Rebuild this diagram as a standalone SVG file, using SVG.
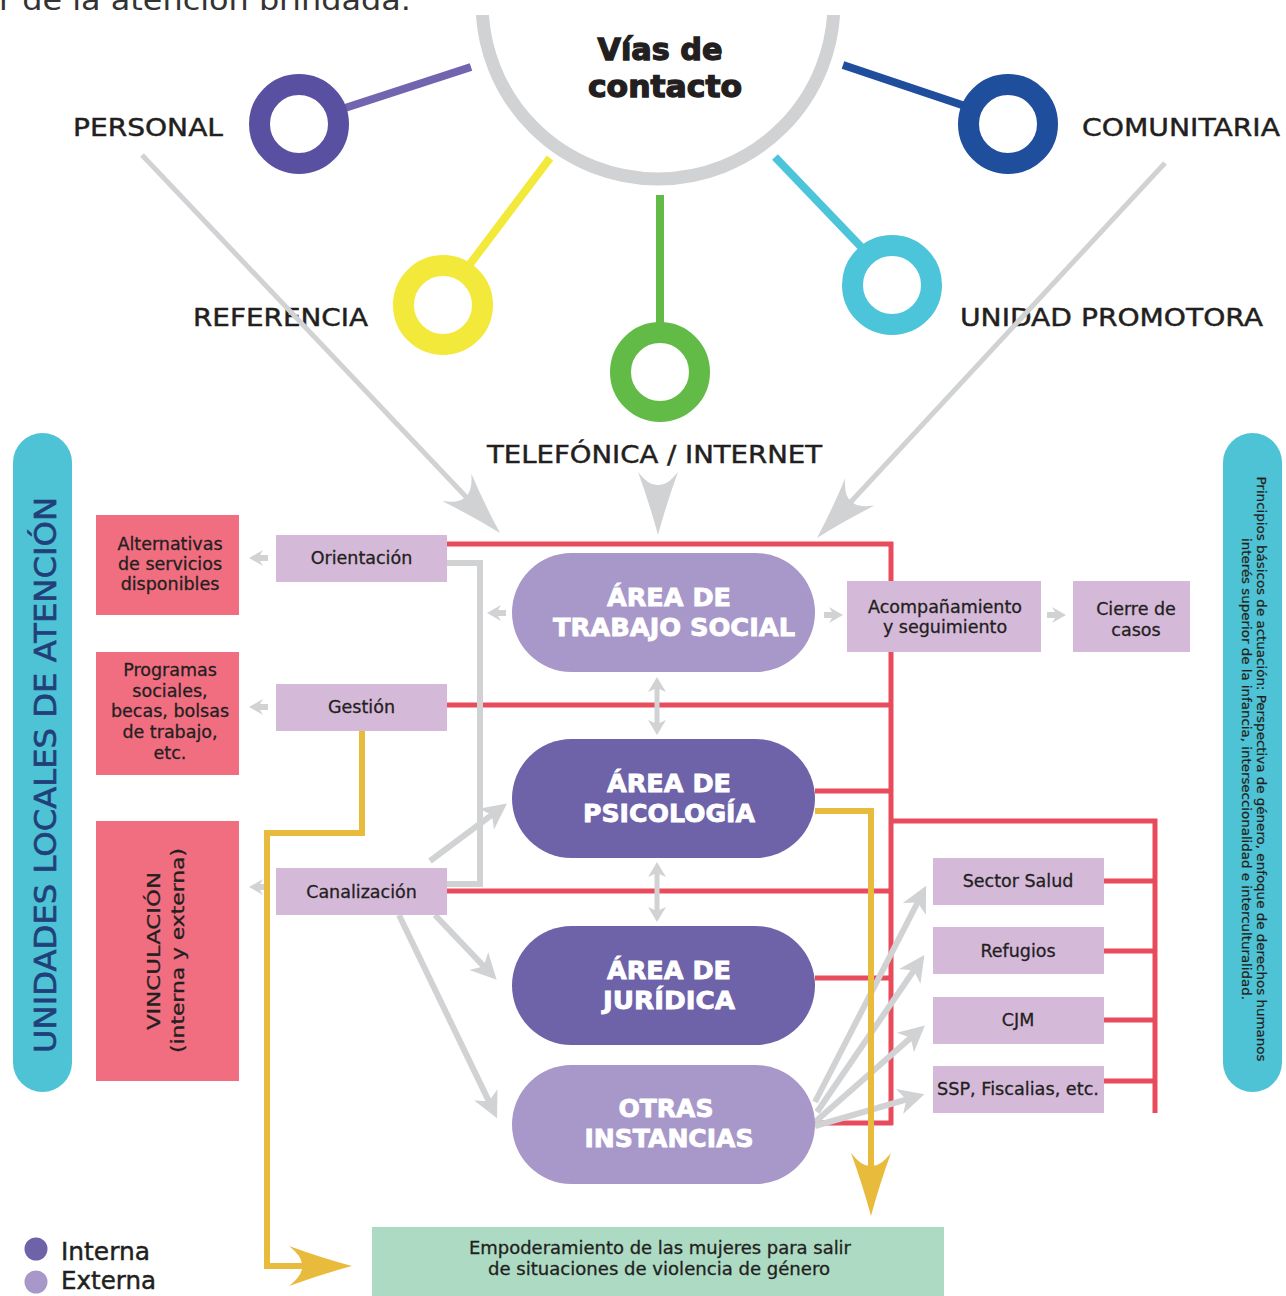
<svg xmlns="http://www.w3.org/2000/svg" xmlns:xlink="http://www.w3.org/1999/xlink" width="1286" height="1296" viewBox="0 0 1286 1296">
<style>
.lbl{font-family:"DejaVu Sans","Liberation Sans",sans-serif;fill:#231f20;font-size:24px;stroke:#231f20;stroke-width:0.45}
.bx{font-family:"DejaVu Sans","Liberation Sans",sans-serif;fill:#231f20;font-size:17.5px;text-anchor:middle;stroke:#231f20;stroke-width:0.3}
.pt{font-family:"DejaVu Sans","Liberation Sans",sans-serif;fill:#ffffff;font-size:24px;font-weight:bold;text-anchor:middle;stroke:#ffffff;stroke-width:0.8}
.lp{fill:#d5b9d9}
.rb{fill:#f16e81}
.red{fill:none;stroke:#e84b5c;stroke-width:5}
.gray{fill:none;stroke:#d1d2d4;stroke-width:6}
.gr5{fill:none;stroke:#d1d2d4;stroke-width:5}
.yel{fill:none;stroke:#e9bb3c;stroke-width:6}
.ring{fill:none;stroke-width:21}
</style>
<defs>
<clipPath id="topclip"><rect x="0" y="15" width="1286" height="400"/></clipPath>
<path id="bigah" d="M0,0 Q-30,-8 -63,-20 Q-49,-9 -50,0 Q-49,9 -63,20 Q-30,8 0,0Z"/>
<path id="sa" d="M0,-3 H8 L5,-8 L19,0 L5,8 L8,3 H0 Z"/>
<path id="dh" d="M0,0 L-15,-9 L-11,0 L-15,9 Z"/>
<marker id="mh" markerUnits="userSpaceOnUse" markerWidth="40" markerHeight="40" viewBox="-30 -15 34 30" refX="-14" refY="0" orient="auto">
<path d="M0,0 L-22,-11 L-16,0 L-22,11 Z" fill="#d1d2d4"/>
</marker>
</defs>
<rect width="1286" height="1296" fill="#ffffff"/>

<text x="-1" y="10" font-family="DejaVu Sans, sans-serif" font-size="28" fill="#333333" textLength="412" lengthAdjust="spacingAndGlyphs">r de la atención brindada.</text>

<g id="vias-de-contacto">
<circle cx="658" cy="3" r="176" fill="none" stroke="#d1d2d4" stroke-width="13" clip-path="url(#topclip)"/>
<text x="660" y="60" font-family="DejaVu Sans, sans-serif" font-weight="bold" font-size="30" fill="#231f20" stroke="#231f20" stroke-width="1.3" text-anchor="middle" textLength="125" lengthAdjust="spacingAndGlyphs">Vías de</text>
<text x="665" y="97" font-family="DejaVu Sans, sans-serif" font-weight="bold" font-size="30" fill="#231f20" stroke="#231f20" stroke-width="1.3" text-anchor="middle" textLength="154" lengthAdjust="spacingAndGlyphs">contacto</text>
</g>

<g id="personal">
<line x1="345" y1="108" x2="471" y2="67" stroke="#7264ae" stroke-width="8"/>
<circle class="ring" cx="299" cy="124" r="39.5" stroke="#5a50a2"/>
<text class="lbl" x="73" y="136" textLength="150" lengthAdjust="spacingAndGlyphs">PERSONAL</text>
</g>
<g id="referencia">
<line x1="467" y1="268" x2="550" y2="158" stroke="#f2e93a" stroke-width="8"/>
<circle class="ring" cx="443" cy="305" r="39.5" stroke="#f2e93a"/>
<text class="lbl" x="193" y="326" textLength="175" lengthAdjust="spacingAndGlyphs">REFERENCIA</text>
</g>
<g id="telefonica">
<line x1="660" y1="195" x2="660" y2="325" stroke="#62bb47" stroke-width="8"/>
<circle class="ring" cx="660" cy="372" r="39.5" stroke="#62bb47"/>
<text class="lbl" x="487" y="463" textLength="335" lengthAdjust="spacingAndGlyphs">TELEFÓNICA / INTERNET</text>
</g>
<g id="unidad-promotora">
<line x1="775" y1="157" x2="866" y2="252" stroke="#4cc4da" stroke-width="8"/>
<circle class="ring" cx="892" cy="285" r="39.5" stroke="#4cc4da"/>
<text class="lbl" x="960" y="326" textLength="303" lengthAdjust="spacingAndGlyphs">UNIDAD PROMOTORA</text>
</g>
<g id="comunitaria">
<line x1="843" y1="65" x2="968" y2="107" stroke="#1f4e9c" stroke-width="8"/>
<circle class="ring" cx="1008" cy="124" r="39.5" stroke="#1f4e9c"/>
<text class="lbl" x="1082" y="136" textLength="198" lengthAdjust="spacingAndGlyphs">COMUNITARIA</text>
</g>

<g id="unidades-locales">
<rect x="13" y="433" width="59" height="659" rx="29.5" fill="#4fc3d6"/>
<text transform="translate(56,775) rotate(-90)" x="0" y="0" font-family="DejaVu Sans, sans-serif" font-size="30" fill="#213f78" stroke="#213f78" stroke-width="0.6" text-anchor="middle" textLength="556" lengthAdjust="spacingAndGlyphs">UNIDADES LOCALES DE ATENCIÓN</text>
</g>
<g id="principios">
<rect x="1223" y="433" width="59" height="659" rx="29.5" fill="#4fc3d6"/>
<text transform="translate(1257,769) rotate(90)" x="0" y="0" font-family="DejaVu Sans, sans-serif" font-size="13" fill="#231f20" stroke="#231f20" stroke-width="0.25" text-anchor="middle" textLength="585" lengthAdjust="spacingAndGlyphs">Principios básicos de actuación: Perspectiva de género, enfoque de derechos humanos</text>
<text transform="translate(1241.5,769) rotate(90)" x="0" y="0" font-family="DejaVu Sans, sans-serif" font-size="13" fill="#231f20" stroke="#231f20" stroke-width="0.25" text-anchor="middle" textLength="462" lengthAdjust="spacingAndGlyphs">interés superior de la infancia, interseccionalidad e interculturalidad.</text>
</g>

<g id="connectors">
<line class="gr5" x1="142" y1="155" x2="469" y2="500"/>
<use href="#bigah" fill="#d1d2d4" transform="translate(500,533) rotate(46.6)"/>
<use href="#bigah" fill="#d1d2d4" transform="translate(658,535) rotate(90)"/>
<line class="gr5" x1="1165" y1="163" x2="848" y2="505"/>
<use href="#bigah" fill="#d1d2d4" transform="translate(817,538) rotate(132.9)"/>
<path class="red" d="M447,544 H891 V1125"/>
<path class="red" d="M447,705 H891"/>
<path class="red" d="M815,791 H891"/>
<path class="red" d="M891,821 H1155 V1113"/>
<path class="red" d="M447,891 H891"/>
<path class="red" d="M815,978 H891"/>
<path class="red" d="M815,1123 H893"/>
<path class="red" d="M1104,881 H1155 M1104,951 H1155 M1104,1020 H1155 M1104,1081 H1155"/>
<path class="gray" d="M447,563 H480 V884 H447"/>
<line class="gray" x1="430" y1="861" x2="493.8" y2="813.4" marker-end="url(#mh)"/>
<line class="gray" x1="435" y1="915" x2="485.3" y2="967.9" marker-end="url(#mh)"/>
<line class="gray" x1="399" y1="915" x2="489.9" y2="1103.4" marker-end="url(#mh)"/>
<line class="gray" x1="815" y1="1102" x2="918.6" y2="900.5" marker-end="url(#mh)"/>
<line class="gray" x1="817" y1="1112" x2="915.1" y2="968.6" marker-end="url(#mh)"/>
<line class="gray" x1="815" y1="1122" x2="912.5" y2="1036.3" marker-end="url(#mh)"/>
<line class="gray" x1="815" y1="1126" x2="908.6" y2="1098.9" marker-end="url(#mh)"/>
<g fill="#d1d2d4">
<use href="#sa" transform="translate(268,558) rotate(180)"/>
<use href="#sa" transform="translate(268,707) rotate(180)"/>
<use href="#sa" transform="translate(268,887) rotate(180)"/>
<use href="#sa" transform="translate(506,613) rotate(180)"/>
<use href="#sa" transform="translate(824,615)"/>
<use href="#sa" transform="translate(1047,615)"/>
<line x1="657" y1="688" x2="657" y2="724" stroke="#d1d2d4" stroke-width="5"/>
<use href="#dh" transform="translate(657,677) rotate(-90)"/>
<use href="#dh" transform="translate(657,735) rotate(90)"/>
<line x1="657" y1="873" x2="657" y2="911" stroke="#d1d2d4" stroke-width="5"/>
<use href="#dh" transform="translate(657,862) rotate(-90)"/>
<use href="#dh" transform="translate(657,922) rotate(90)"/>
</g>
<path class="yel" d="M362,730 V833 H267 V1266 H305"/>
<use href="#bigah" fill="#e9bb3c" transform="translate(352,1266)"/>
<path class="yel" d="M815,811 H871 V1170"/>
<use href="#bigah" fill="#e9bb3c" transform="translate(871,1216) rotate(90)"/>
</g>

<g id="alternativas">
<rect class="rb" x="96" y="515" width="143" height="100"/>
<text class="bx" x="170" y="550">Alternativas</text>
<text class="bx" x="170" y="570">de servicios</text>
<text class="bx" x="170" y="590">disponibles</text>
</g>
<g id="programas">
<rect class="rb" x="96" y="652" width="143" height="123"/>
<text class="bx" x="170" y="676">Programas</text>
<text class="bx" x="170" y="697">sociales,</text>
<text class="bx" x="170" y="717">becas, bolsas</text>
<text class="bx" x="170" y="738">de trabajo,</text>
<text class="bx" x="170" y="759">etc.</text>
</g>
<g id="vinculacion">
<rect class="rb" x="96" y="821" width="143" height="260"/>
<text class="bx" transform="translate(160,951) rotate(-90)" x="0" y="0" font-size="21" textLength="158" lengthAdjust="spacingAndGlyphs">VINCULACIÓN</text>
<text class="bx" transform="translate(184,950.5) rotate(-90)" x="0" y="0" font-size="21" textLength="205" lengthAdjust="spacingAndGlyphs">(interna y externa)</text>
</g>

<g id="orientacion">
<rect class="lp" x="276" y="535" width="171" height="47"/>
<text class="bx" x="361.5" y="564">Orientación</text>
</g>
<g id="gestion">
<rect class="lp" x="276" y="684" width="171" height="47"/>
<text class="bx" x="361.5" y="713">Gestión</text>
</g>
<g id="canalizacion">
<rect class="lp" x="276" y="868" width="171" height="47"/>
<text class="bx" x="361.5" y="898">Canalización</text>
</g>

<g id="trabajo-social">
<rect x="512" y="553" width="303" height="119" rx="59.5" fill="#a798c9"/>
<text class="pt" x="669" y="606" textLength="124" lengthAdjust="spacingAndGlyphs">ÁREA DE</text>
<text class="pt" x="674" y="636" textLength="242" lengthAdjust="spacingAndGlyphs">TRABAJO SOCIAL</text>
</g>
<g id="psicologia">
<rect x="512" y="739" width="303" height="119" rx="59.5" fill="#6e62a9"/>
<text class="pt" x="669" y="792" textLength="124" lengthAdjust="spacingAndGlyphs">ÁREA DE</text>
<text class="pt" x="669" y="822" textLength="172" lengthAdjust="spacingAndGlyphs">PSICOLOGÍA</text>
</g>
<g id="juridica">
<rect x="512" y="926" width="303" height="119" rx="59.5" fill="#6e62a9"/>
<text class="pt" x="669" y="979" textLength="124" lengthAdjust="spacingAndGlyphs">ÁREA DE</text>
<text class="pt" x="669" y="1009" textLength="132" lengthAdjust="spacingAndGlyphs">JURÍDICA</text>
</g>
<g id="otras-instancias">
<rect x="512" y="1065" width="303" height="119" rx="59.5" fill="#a798c9"/>
<text class="pt" x="666" y="1117" textLength="95" lengthAdjust="spacingAndGlyphs">OTRAS</text>
<text class="pt" x="669" y="1147" textLength="169" lengthAdjust="spacingAndGlyphs">INSTANCIAS</text>
</g>

<g id="acompanamiento">
<rect class="lp" x="847" y="581" width="194" height="71"/>
<text class="bx" x="945" y="613">Acompañamiento</text>
<text class="bx" x="945" y="633">y seguimiento</text>
</g>
<g id="cierre">
<rect class="lp" x="1073" y="581" width="117" height="71"/>
<text class="bx" x="1136" y="615">Cierre de</text>
<text class="bx" x="1136" y="636">casos</text>
</g>

<g id="sector-salud">
<rect class="lp" x="933" y="858" width="171" height="47"/>
<text class="bx" x="1018" y="887">Sector Salud</text>
</g>
<g id="refugios">
<rect class="lp" x="933" y="927" width="171" height="47"/>
<text class="bx" x="1018" y="957">Refugios</text>
</g>
<g id="cjm">
<rect class="lp" x="933" y="997" width="171" height="47"/>
<text class="bx" x="1018" y="1026">CJM</text>
</g>
<g id="ssp">
<rect class="lp" x="933" y="1066" width="171" height="47"/>
<text class="bx" x="1018" y="1095" textLength="162" lengthAdjust="spacingAndGlyphs">SSP, Fiscalias, etc.</text>
</g>

<g id="empoderamiento">
<rect x="372" y="1227" width="572" height="69" fill="#acdac3"/>
<text class="bx" x="660" y="1254" font-size="16" textLength="382" lengthAdjust="spacingAndGlyphs">Empoderamiento de las mujeres para salir</text>
<text class="bx" x="659" y="1275" font-size="16" textLength="342" lengthAdjust="spacingAndGlyphs">de situaciones de violencia de género</text>
</g>

<g id="legend">
<circle cx="36" cy="1249" r="11.5" fill="#6e62a9"/>
<text class="lbl" x="61" y="1260" font-size="23" textLength="89" lengthAdjust="spacingAndGlyphs">Interna</text>
<circle cx="36" cy="1282" r="11.5" fill="#a798c9"/>
<text class="lbl" x="61" y="1289" font-size="23" textLength="95" lengthAdjust="spacingAndGlyphs">Externa</text>
</g>
</svg>
